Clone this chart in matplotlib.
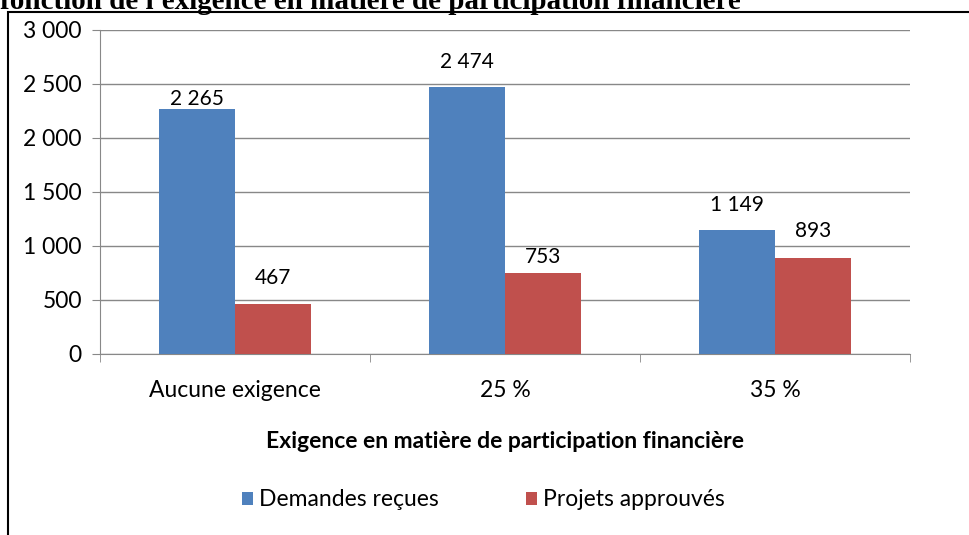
import matplotlib
matplotlib.use('Agg')
import matplotlib.pyplot as plt
from matplotlib.patches import Rectangle
from matplotlib.ticker import FuncFormatter, FixedLocator
import numpy as np

categories = ['Aucune exigence', '25 %', '35 %']
demandes = [2265, 2474, 1149]
projets = [467, 753, 893]
series_names = ['Demandes reçues', 'Projets approuvés']
y_ticks = [0, 500, 1000, 1500, 2000, 2500, 3000]

# label offsets above bar tops, in pixels (labels were moved by hand in the original)
lab_off_dem = [0, 15, 15]
lab_off_proj = [16, 6, 17]

plt.rcParams['font.family'] = ['Lato', 'DejaVu Sans']


def fmt_num(v, pos=None):
    return '{:,}'.format(int(v)).replace(',', ' ')


fig = plt.figure(figsize=(9.69, 5.35), dpi=100)
fig.patches.append(Rectangle((8 / 969, -0.05), 1.0, 1 - 12 / 535 + 0.05, transform=fig.transFigure,
                             fill=False, edgecolor='black', linewidth=1.5))
fig.text(0.0, 1 - 9 / 535, "fonction de l'exigence en matière de participation financière",
         family='Liberation Serif', fontweight='bold', fontsize=21, va='baseline', ha='left')

ax = fig.add_axes([100 / 969, 1 - 354 / 535, 810 / 969, 324 / 535])
x = np.arange(len(categories))
w = 0.28
b1 = ax.bar(x - w / 2, demandes, w, color='#4F81BD', label=series_names[0], zorder=3)
b2 = ax.bar(x + w / 2, projets, w, color='#C0504D', label=series_names[1], zorder=3)
for bars, offs in ((b1, lab_off_dem), (b2, lab_off_proj)):
    for rect, off in zip(bars, offs):
        h = rect.get_height()
        ax.annotate(fmt_num(h), (rect.get_x() + rect.get_width() / 2, h), xytext=(0, off * 0.72),
                    textcoords='offset points', ha='center', va='bottom', fontsize=15)

ax.set_xlim(-0.5, len(categories) - 0.5)
ax.set_ylim(0, 3000)
ax.set_yticks(y_ticks)
ax.yaxis.set_major_formatter(FuncFormatter(fmt_num))
ax.grid(axis='y', color='#888888', linewidth=1, zorder=0)
ax.set_xticks(x)
ax.set_xticklabels(categories, fontsize=16.5)
ax.xaxis.set_minor_locator(FixedLocator(np.arange(-0.5, len(categories), 1)))
ax.tick_params(axis='x', which='major', length=0, pad=19)
ax.tick_params(axis='x', which='minor', length=6, color='#888888')
ax.tick_params(axis='y', length=6, color='#888888', labelsize=16.5, pad=7)
for s in ['top', 'right']:
    ax.spines[s].set_visible(False)
ax.spines['left'].set_color('#888888')
ax.spines['bottom'].set_color('#888888')
ax.set_xlabel('Exigence en matière de participation financière', fontsize=16.5,
              fontweight='bold', labelpad=21)

fig.legend(handles=[b1, b2], loc='center', bbox_to_anchor=(483 / 969, 1 - 500 / 535), ncol=2,
           frameon=False, fontsize=16.5, handlelength=0.5, handleheight=0.5,
           handletextpad=0.25, columnspacing=3.8)

fig.savefig('out.png', dpi=100)
